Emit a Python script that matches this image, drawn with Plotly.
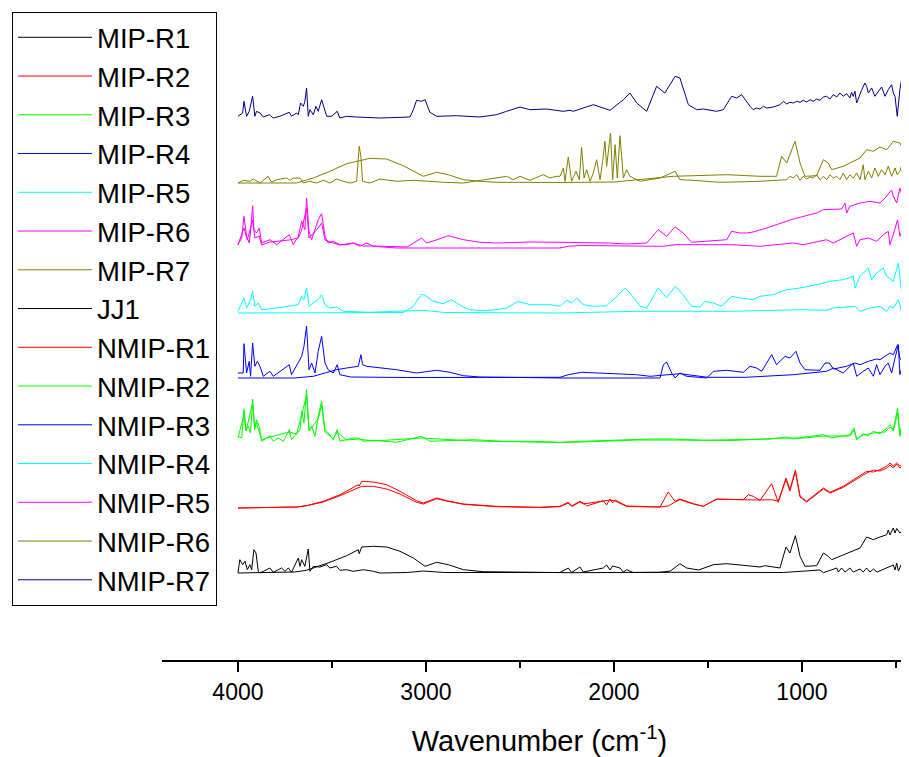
import plotly.graph_objects as go

# ---- data: (wavenumber cm-1, relative absorbance) ----
MIP_R1 = [(4000,0),(3800,0.3),(3700,1),(3635,2.7),(3599,5),(3511,10.7),(3422,17.3),(3360,23.3),(3355,19.3),
          (3342,26),(3280,26.7),(3209,26),(3138,21.7),(3067,15),(3005,6.7),(2943,10.7),(2881,8.3),(2801,3.3),
          (2695,1.3),(2400,0.5),(2234,0.3),(2000,0.5),(1755,0.7),(1700,2),(1649,9.3),(1613,5),(1550,3),(1471,8.3),
          (1400,9.3),(1312,7.7),(1223,6),(1197,7.3),(1117,5),(1085,26),(1064,20),(1035,37.3),(1010,16.7),(984,6.7),
          (922,7.3),(886,20),(860,16.7),(842,13.3),(780,18.3),(691,25),(656,36),(620,33.3),(585,36),(549,38.3),
          (541,43),(532,38),(514,45),(505,40),(496,44.5),(479,40),(461,43.3),(443,40),(400,41)]
JJ1 = [(4000,0),(3990,13.3),(3975,8.3),(3963,11.7),(3950,3.3),(3936,8.3),(3927,3.3),(3915,23.3),(3904,20),(3892,1.7),
       (3883,0),(3830,5),(3812,0.7),(3768,5),(3750,1.7),(3732,5),(3715,0.7),(3679,15),(3670,6.7),(3661,13.3),
       (3644,6.7),(3626,24),(3617,1.7),(3599,6.7),(3564,6),(3528,8.3),(3511,5),(3475,6.7),(3458,2.7),(3422,3.3),
       (3387,1.7),(3333,3.3),(3280,1.7),(3245,0),(3100,0.5),(3014,2),(2900,0.5),(2500,0.3),(2287,0.5),(2243,5),
       (2225,0.5),(2181,6),(2163,1),(2057,5),(2039,8),(2021,3),(2007,7),(1968,5),(1950,1),(1932,3.3),(1897,0.5),
       (1700,0.7),(1500,0.5),(1300,0.7),(1100,0.5),(904,3),(886,0.3),(815,5),(806,1),(789,5),(771,1),(745,5),
       (727,1),(691,4),(674,1),(656,5),(638,1),(620,4),(600,1),(514,8),(505,3),(496,10),(487,2),(470,9),(461,3),
       (452,10),(443,4),(420,2)]
MIP_R2 = [(4000,0),(3688,1),(3635,2.3),(3546,6.7),(3457,13.3),(3360,23.3),(3355,22),(3342,26.7),(3280,26),(3209,23.3),
          (3138,16.7),(3050,7.3),(3014,5),(2943,10),(2890,7.3),(2801,4),(2624,1.7),(2400,0.7),(2287,1.7),(2243,5.7),
          (2225,2),(2181,6.7),(2163,5),(2145,2),(2057,7.3),(2039,3),(2021,9),(2007,5),(1994,8),(1968,5.7),(1932,2),
          (1755,1),(1711,16),(1675,6.7),(1649,9),(1578,4.3),(1525,1.7),(1454,9),(1312,8.3),(1285,13.3),(1259,11.7),
          (1223,7.7),(1161,24.3),(1126,5.7),(1085,30),(1064,18.3),(1035,37.7),(1010,11.7),(975,6.7),(886,20),
          (851,15.7),(780,21.7),(656,36.7),(620,36),(585,38.3),(549,42),(532,45),(514,42),(496,45),(479,42),
          (461,43.3),(443,45),(434,28)]
MIP_R3 = [(4000,6.7),(3980,5),(3968,34),(3957,13.3),(3945,16.7),(3933,10),(3922,44),(3911,13.3),(3901,23.3),(3887,16.7),
          (3874,1.7),(3848,5),(3830,7.3),(3812,1.7),(3786,5),(3759,1.7),(3727,13.3),(3715,3.3),(3688,10),(3670,13.3),
          (3661,31.7),(3649,20),(3635,53.3),(3622,13.3),(3608,16.7),(3590,6.7),(3573,26.7),(3555,41.7),(3537,13.3),
          (3520,10),(3493,3.3),(3472,13.3),(3458,1.7),(3422,3.3),(3387,5),(3360,5),(3333,1.7),(3280,2.7),(3156,0.7),
          (3023,6.7),(2979,1.7),(2748,3.3),(2589,1.7),(2429,1.7),(2287,0.7),(2172,1.7),(1879,4),(1808,4),(1684,4),
          (1525,2.7),(1374,3.3),(1241,3.3),(1170,4),(1081,6),(1046,4),(984,6),(940,7.3),(886,8.3),(842,5),(789,6.7),
          (745,8.3),(723,15),(709,3.3),(674,9.3),(647,7.3),(620,11.7),(585,9.3),(558,13.3),(532,18.3),(514,13.3),
          (491,35),(479,6.7),(461,26.7),(452,1.7),(439,16.7),(420,10)]
MIP_R4 = [(4000,0),(3700,0),(3599,1.7),(3511,6.7),(3475,8.3),(3422,10),(3360,11.7),(3346,23.3),(3337,13.3),(3316,11.7),
          (3245,10),(3156,8.3),(3050,5),(3023,5.7),(2943,7.7),(2872,5.7),(2801,2.3),(2713,1),(2400,0.3),(2287,0),
          (1755,0),(1737,13.3),(1720,16),(1693,5),(1675,0),(1649,5),(1613,1.7),(1507,0),(1471,6.7),(1400,7.7),
          (1312,5.7),(1276,11.7),(1241,10),(1214,6.7),(1161,23.3),(1135,13.3),(1090,21.7),(1064,20),(1032,26.7),
          (1010,15),(984,8.3),(904,7.7),(877,15),(854,15),(833,9),(762,11.7),(718,15),(691,13.3),(647,16.7),
          (603,19),(585,18.3),(532,25),(514,23.3),(491,33.3),(479,20),(443,10)]
MIP_R5 = [(4000,0),(3200,0),(3121,0.5),(3067,6.7),(3023,19),(2997,16.7),(2961,11.7),(2908,9.3),(2864,13.3),(2837,10),
          (2801,6),(2766,3.3),(2695,2.3),(2624,3.3),(2571,5),(2509,11.7),(2447,8.3),(2341,8.3),(2287,6.7),(2252,12.7),
          (2234,10.5),(2225,10),(2198,15),(2163,8.3),(2110,6.7),(2039,7.3),(1994,15),(1941,25),(1915,20),(1861,6.7),
          (1826,5),(1764,25),(1720,15),(1675,26.7),(1640,20),(1587,6.7),(1542,6),(1516,11.7),(1471,10),(1427,6.7),
          (1374,16.7),(1330,15),(1259,13.3),(1223,16.7),(1152,18.3),(1081,23.3),(1010,25),(957,26.7),(922,28.3),
          (851,31.7),(780,33.3),(727,36.7),(718,25),(691,36.7),(647,45),(629,33.3),(603,40),(567,45),(549,36.7),
          (514,31.7),(487,50),(470,20),(452,41.7),(434,38.3)]
MIP_R6 = [(4000,3),(3968,20),(3950,8),(3922,28),(3910,10),(3887,12),(3874,3),(3830,6),(3727,8),(3679,10),(3661,18),
          (3635,40),(3622,10),(3573,20),(3555,25),(3537,8),(3493,5),(3458,3),(3387,5),(3333,2),(3280,2),(3100,1),
          (3023,10),(2997,5),(2961,7),(2908,10),(2881,12.3),(2801,8.3),(2713,5.7),(2624,5),(2536,5.7),(2447,6),
          (2287,5.7),(2021,5),(1932,4),(1826,5),(1764,18.3),(1720,11.7),(1675,21),(1631,15),(1587,5.7),(1489,6.7),
          (1400,8.3),(1374,16.7),(1330,15),(1294,15),(1259,16),(1188,20),(1135,23.3),(1046,29),(957,33.3),(922,35),
          (886,38.3),(833,38.3),(789,39),(771,45),(762,35),(745,41.7),(691,45),(638,46.7),(585,45),(558,50),
          (523,58),(514,52),(496,45),(479,60),(461,48),(443,80),(434,50)]
MIP_R7 = [(4000,0),(3688,0),(3599,5),(3511,11.7),(3422,19.3),(3333,23.3),(3298,24.7),(3209,24),(3121,17.3),(3014,6.7),
          (2943,10.7),(2881,8.3),(2801,3.3),(2713,1.7),(2624,0.7),(2287,0.5),(2000,1),(1684,6.7),(1471,8.3),(1400,8.3),
          (1223,6.7),(1135,6.7),(1108,26.7),(1081,20),(1037,41.7),(1010,20),(984,6.7),(922,7.3),(886,23.3),(860,20),
          (842,13.3),(780,16.7),(691,25),(656,33.3),(620,31.7),(585,36),(549,33.3),(514,41.7),(479,40),(461,33.3),
          (443,23.3),(434,25)]
NMIP_R1 = [(4000,0),(3688,1),(3635,2.3),(3546,6),(3457,12.3),(3360,20),(3342,21.7),(3280,21.7),(3209,19),(3138,14),
           (3050,5.7),(3014,4),(2943,9.3),(2890,7),(2801,3.7),(2624,1.3),(2400,0.5),(2287,1.3),(2243,5),(2225,1.5),
           (2181,6),(2163,4),(2057,6.5),(2021,8),(1994,7),(1932,1.5),(1755,1),(1711,2),(1675,6),(1649,8.3),(1578,4),
           (1525,1.7),(1454,8.7),(1312,8),(1285,8.3),(1223,8),(1161,8.3),(1126,7),(1085,28.3),(1064,17),(1035,36.7),
           (1010,11),(975,6),(886,19),(851,15),(780,20.7),(656,35),(620,38),(585,37),(549,40),(532,43),(514,40),
           (496,44),(479,40),(461,42),(443,44),(434,30)]
NMIP_R2 = [(4000,5),(3968,28),(3957,12),(3922,40),(3911,15),(3901,20),(3874,3),(3830,6),(3727,11),(3688,9),(3661,28),
           (3635,48),(3622,12),(3573,24),(3555,38),(3537,11),(3493,4),(3472,11),(3422,3),(3360,4),(3280,2),(3023,5),
           (2748,2),(2287,0.5),(2172,1),(1879,3),(1684,3),(1374,2.5),(1081,5),(984,5),(886,7),(745,7),(723,13),
           (709,4),(674,8),(620,10),(558,11),(532,16),(514,12),(491,30),(479,8),(461,24),(452,3),(439,14),(420,9)]
NMIP_R3 = [(4000,5),(3972,5),(3968,34.3),(3954,5),(3940,16.7),(3933,1.7),(3922,35),(3910,11.7),(3897,16.7),(3883,11.7),
           (3865,1.7),(3830,6.7),(3812,1.7),(3727,13.3),(3715,3.3),(3679,15),(3661,21.7),(3649,31.7),(3635,52),
           (3622,8.3),(3608,15),(3590,5),(3573,26.7),(3555,41.7),(3537,15),(3520,8.3),(3493,5),(3472,13.3),(3458,3.3),
           (3400,1),(3300,0.7),(3100,0.5),(2287,0.7),(2243,3.3),(2172,5.7),(2057,5),(2021,4.3),(1968,4.3),(1879,3.3),
           (1808,1.7),(1649,4.3),(1500,0.7),(1300,0.7),(1046,3.3),(940,5),(869,6.7),(833,10),(780,5),(727,15),
           (709,1.7),(674,6.7),(647,10),(620,1.7),(603,13.3),(585,3.3),(558,11.7),(541,15),(523,5),(505,20),
           (487,33.3),(479,3.3),(461,15),(443,3.3),(420,8)]
NMIP_R4 = [(4000,1.7),(3968,15),(3954,5),(3933,13.3),(3922,21.7),(3910,6.7),(3892,10),(3874,3.3),(3830,4),(3723,6.7),
           (3679,8.3),(3661,16.7),(3649,13.3),(3635,25),(3622,6.7),(3599,10),(3573,13.3),(3555,18.3),(3537,8.3),
           (3511,5),(3475,6),(3440,1.7),(3300,0.7),(3014,2.7),(2900,0.5),(2287,0),(1879,1.7),(1675,1.7),(1374,1.7),
           (993,3.3),(869,2.7),(833,5),(718,6.7),(691,1.7),(638,5),(585,6.7),(549,1.7),(532,6.7),(514,5),(487,13.3),
           (470,1.7),(443,10),(420,5)]
NMIP_R5 = [(4000,3.3),(3980,10),(3968,31.7),(3954,11.7),(3940,5),(3933,16.7),(3922,42.3),(3915,18.3),(3901,15),
           (3887,20),(3874,5),(3830,8.3),(3794,3.3),(3727,13.3),(3706,3.3),(3679,11.7),(3661,26.7),(3644,18.3),
           (3635,50),(3622,16.7),(3608,8.3),(3573,28.3),(3555,34.3),(3537,11.7),(3520,5),(3493,6.7),(3458,3.3),
           (3422,3.3),(3387,5),(3351,1.7),(3316,5),(3280,1.7),(3156,0),(2287,0),(2243,1.7),(2181,2.5),(1737,1.7),
           (1675,3.3),(1374,3.3),(1223,1.7),(1046,5),(993,3.3),(869,8.3),(833,5),(727,15),(709,1.7),(691,8.3),
           (647,10),(603,6.7),(567,13.3),(541,16.7),(532,3.3),(514,13.3),(491,28.3),(479,11.7),(461,20),(443,1.7),
           (420,8)]
NMIP_R6 = [(4000,0),(3972,2.7),(3936,1.7),(3918,4),(3883,0),(3839,6.7),(3821,0.7),(3794,3.3),(3741,5),(3723,2.7),
           (3706,5),(3670,5),(3652,0),(3617,1.7),(3582,0),(3546,2.7),(3511,0),(3475,4),(3440,1.7),(3404,0),(3369,1.7),
           (3355,36.7),(3346,26.7),(3337,1.7),(3298,0),(3245,4),(3156,1.7),(3067,2.7),(2979,1.7),(2908,0.7),(2801,0),
           (2571,6.7),(2536,3.3),(2500,6.7),(2447,2.7),(2376,8.3),(2341,5),(2305,6.7),(2287,6.7),(2269,15),(2260,1.7),
           (2243,26),(2225,1.7),(2202,11.7),(2184,3.3),(2172,35.7),(2159,5),(2145,13.3),(2127,1.7),(2110,10),
           (2092,23.3),(2074,3.3),(2060,21.7),(2048,41.7),(2039,16.7),(2018,50),(2007,3.3),(1994,38.3),(1982,5),
           (1968,47.3),(1950,5),(1932,13.3),(1915,6.7),(1897,5),(1861,1.7),(1755,5),(1675,11.7),(1649,3.3),
           (1578,2.7),(1436,0.7),(1223,1.7),(1081,3.3),(1064,6.7),(1046,5),(1028,8.3),(1010,2.7),(993,6.7),(975,4),
           (957,6),(940,5),(922,8.3),(904,3.3),(886,6.7),(869,3.3),(851,8.3),(833,5),(815,6.7),(798,3.3),(780,10),
           (762,3.3),(745,8.3),(727,5),(709,10),(691,3.3),(674,18.3),(665,3.3),(647,11.7),(629,5),(612,15),(594,6.7),
           (576,13.3),(558,8.3),(541,16.7),(523,6.7),(505,15),(493,8.3),(479,11.7),(461,23.3),(443,1.7),(420,12)]
NMIP_R7 = [(4000,1.7),(3975,5),(3968,16.7),(3954,1.7),(3940,6.7),(3922,21.7),(3910,1.7),(3901,6.7),(3883,5),(3865,1),
           (3833,3.3),(3812,0),(3777,1.7),(3727,5.7),(3715,1.7),(3688,5),(3679,3.3),(3667,15),(3652,11.7),(3644,16.7),
           (3635,30),(3626,1.7),(3617,8.3),(3599,3.3),(3585,11.7),(3573,6.7),(3555,18.3),(3537,8.3),(3528,1.7),
           (3502,1.7),(3472,6.7),(3458,0),(3422,1.7),(3369,1),(3245,0),(3085,1),(3067,8.3),(3050,17.7),(3023,16.7),
           (3005,18.3),(2979,5.7),(2943,1.7),(2837,2.3),(2713,1),(2624,3.3),(2571,6.7),(2500,11),(2447,8.3),
           (2358,9),(2270,6.7),(2234,7.7),(2216,6.7),(2163,10),(2110,13.3),(2057,10),(2021,7.7),(1950,18.3),
           (1915,25),(1879,15),(1826,6.7),(1773,31.7),(1729,25),(1675,41.7),(1649,40),(1604,13.3),(1560,8.3),
           (1525,9),(1454,6.7),(1418,8.3),(1374,21.7),(1347,20),(1321,23.3),(1276,11.7),(1259,8.3),(1241,10),
           (1223,9),(1205,11.7),(1188,10),(1152,11),(1117,13.3),(1099,16.7),(1081,14),(1064,15.7),(1046,15),
           (1028,16.7),(1010,15.7),(993,17.7),(975,16),(957,18.3),(940,16.7),(922,19),(904,17.7),(886,21),(869,21.7),
           (851,19),(833,23.3),(815,21),(798,25),(780,21.7),(762,24.3),(745,20),(736,25.7),(727,21.7),(718,26.7),
           (709,15),(691,25),(683,27.7),(665,35),(656,31.7),(647,25),(629,30),(612,21.7),(594,26.7),(576,31),
           (558,21.7),(541,28.3),(523,33.3),(514,25),(505,21.7),(493,1.7),(479,28.3),(470,38.3),(452,20),(434,28.3)]

SERIES_NAMES = ["MIP-R1", "MIP-R2", "MIP-R3", "MIP-R4", "MIP-R5", "MIP-R6", "MIP-R7", "JJ1",
                "NMIP-R1", "NMIP-R2", "NMIP-R3", "NMIP-R4", "NMIP-R5", "NMIP-R6", "NMIP-R7"]
SERIES_DATA = [MIP_R1, MIP_R2, MIP_R3, MIP_R4, MIP_R5, MIP_R6, MIP_R7, JJ1,
               NMIP_R1, NMIP_R2, NMIP_R3, NMIP_R4, NMIP_R5, NMIP_R6, NMIP_R7]
# vertical stacking offsets (same units as absorbance)
SERIES_OFFSETS = [87, 152, 217, 282, 347, 412, 477, 87, 152, 217, 282, 347, 412, 477, 542]
SERIES_COLORS = ["#000000", "#FF0000", "#00FF00", "#0000FF", "#00FFFF", "#FF00FF", "#808000", "#000000",
                 "#FF0000", "#00FF00", "#0000FF", "#00FFFF", "#FF00FF", "#808000", "#000080"]

FONT = "Arial, 'Liberation Sans', sans-serif"

fig = go.Figure()
for name, data, off, col in zip(SERIES_NAMES, SERIES_DATA, SERIES_OFFSETS, SERIES_COLORS):
    fig.add_trace(go.Scatter(
        x=[p[0] for p in data],
        y=[p[1] + off for p in data],
        mode="lines", name=name,
        line=dict(color=col, width=1),
    ))

fig.update_layout(
    width=909, height=757,
    margin=dict(l=154, r=0, t=0, b=105, autoexpand=False),
    paper_bgcolor="white", plot_bgcolor="white",
    font=dict(family=FONT, color="black"),
    showlegend=True,
    legend=dict(
        x=-0.1987, y=0.994, xanchor="left", yanchor="top",
        bgcolor="white", bordercolor="black", borderwidth=1,
        font=dict(size=27.5, family=FONT, color="black"),
        itemwidth=74, tracegroupgap=0,
    ),
    xaxis=dict(
        range=[4404, 388], showgrid=False, zeroline=False, automargin=False,
        showline=True, linecolor="black", linewidth=2,
        ticks="outside", ticklen=10, tickwidth=2, tickcolor="black",
        tick0=0, dtick=1000,
        tickfont=dict(size=23, family=FONT, color="black"),
        minor=dict(ticks="outside", ticklen=6, tickwidth=2, tickcolor="black", dtick=500, tick0=0, showgrid=False),
        title=dict(text="Wavenumber (cm<sup>-1</sup>)", font=dict(size=29, family=FONT, color="black"), standoff=27),
    ),
    yaxis=dict(range=[0, 652], visible=False, automargin=False),
)

fig.write_html("out.html")
